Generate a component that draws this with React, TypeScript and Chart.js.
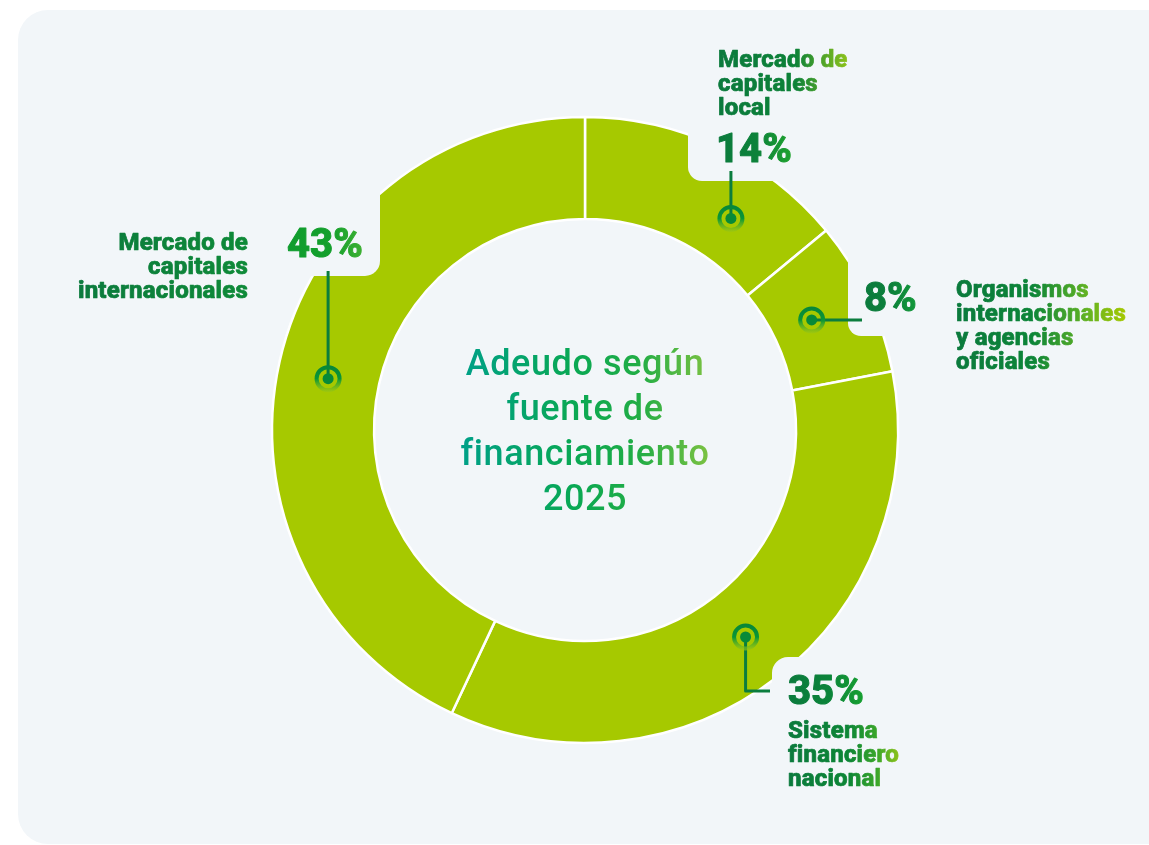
import { useEffect, useRef } from "react";
import { Chart, registerables } from "chart.js";

Chart.register(...registerables);

// ---------- data ----------
const categories = [
  "Mercado de capitales local",
  "Organismos internacionales y agencias oficiales",
  "Sistema financiero nacional",
  "Mercado de capitales internacionales",
];
const shares = [14, 8, 35, 43];
const percentLabels = ["14%", "8%", "35%", "43%"];
const labelLines = [
  ["Mercado de", "capitales", "local"],
  ["Organismos", "internacionales", "y agencias", "oficiales"],
  ["Sistema", "financiero", "nacional"],
  ["Mercado de", "capitales", "internacionales"],
];
const titleLines = ["Adeudo según", "fuente de", "financiamiento", "2025"];

// ---------- styles ----------
const PAGE_BG = "#ffffff";
const CARD_BG = "#f2f6f9";
const RING = "#a6c900";
const DARK = "#0b7a3d";
const FONT = "Roboto, 'Noto Sans', sans-serif";

type Stop = [number, string];
type Layout = {
  angleOffset: number; // degrees
  radiusShift: number;
  connector: "up" | "right" | "downRight";
  lineEnd: [number, number]; // relative to center
  pct: [number, number];
  pctStops: Stop[];
  label: [number, number];
  labelAlign: "left" | "right";
  labelStops: Stop[];
  notch: { x: number; y: number; w: number; h: number; r: [number, number, number, number] };
};

const layouts: Layout[] = [
  {
    angleOffset: 9.4,
    radiusShift: -5,
    connector: "up",
    lineEnd: [0, -259],
    pct: [131, -268],
    pctStops: [[0, DARK], [0.55, "#0c823a"], [1, "#1fa32e"]],
    label: [133, -363],
    labelAlign: "left",
    labelStops: [[0, DARK], [0.6, "#0d8238"], [1, "#8cc21a"]],
    notch: { x: 103, y: -340, w: 140, h: 91, r: [0, 0, 0, 14] },
  },
  {
    angleOffset: -0.7,
    radiusShift: -10,
    connector: "right",
    lineEnd: [277, 0],
    pct: [279, -119],
    pctStops: [[0, DARK], [0.5, "#0c803b"], [1, "#13993a"]],
    label: [371, -133],
    labelAlign: "left",
    labelStops: [[0, DARK], [0.45, "#0c8538"], [0.75, "#5cb025"], [1, "#a6c900"]],
    notch: { x: 263, y: -200, w: 80, h: 106, r: [0, 0, 0, 13] },
  },
  {
    angleOffset: 0,
    radiusShift: 0,
    connector: "downRight",
    lineEnd: [185, 261],
    pct: [203, 274],
    pctStops: [[0, DARK], [0.55, "#0c843a"], [1, "#16a030"]],
    label: [203, 308],
    labelAlign: "left",
    labelStops: [[0, DARK], [0.55, "#0d8636"], [0.8, "#3aa62a"], [1, "#8cc21a"]],
    notch: { x: 187, y: 227, w: 140, h: 120, r: [16, 0, 0, 0] },
  },
  {
    angleOffset: -1.3,
    radiusShift: 0,
    connector: "up",
    lineEnd: [0, -159],
    pct: [-298, -173],
    pctStops: [[0, "#0f9c2e"], [0.6, "#14a02c"], [1, "#3db032"]],
    label: [-337, -180],
    labelAlign: "right",
    labelStops: [[0, DARK], [1, "#0e8a38"]],
    notch: { x: -300, y: -270, w: 95, h: 116, r: [0, 0, 15, 0] },
  },
];

const titleStops: Stop[] = [
  [0, "#00a088"],
  [0.45, "#09a854"],
  [0.72, "#22ad45"],
  [1, "#7cc242"],
];

function roundedRect(
  ctx: CanvasRenderingContext2D,
  x: number,
  y: number,
  w: number,
  h: number,
  r: [number, number, number, number]
) {
  const [tl, tr, br, bl] = r;
  ctx.beginPath();
  ctx.moveTo(x + tl, y);
  ctx.lineTo(x + w - tr, y);
  if (tr) ctx.arcTo(x + w, y, x + w, y + tr, tr);
  else ctx.lineTo(x + w, y);
  ctx.lineTo(x + w, y + h - br);
  if (br) ctx.arcTo(x + w, y + h, x + w - br, y + h, br);
  else ctx.lineTo(x + w, y + h);
  ctx.lineTo(x + bl, y + h);
  if (bl) ctx.arcTo(x, y + h, x, y + h - bl, bl);
  else ctx.lineTo(x, y + h);
  ctx.lineTo(x, y + tl);
  if (tl) ctx.arcTo(x, y, x + tl, y, tl);
  else ctx.lineTo(x, y);
  ctx.closePath();
}

function grad(ctx: CanvasRenderingContext2D, x0: number, x1: number, stops: Stop[]) {
  const g = ctx.createLinearGradient(x0, 0, x1, 0);
  stops.forEach(([o, c]) => g.addColorStop(o, c));
  return g;
}

const cardPlugin = {
  id: "card",
  beforeDraw(chart: any) {
    const ctx: CanvasRenderingContext2D = chart.ctx;
    ctx.save();
    ctx.fillStyle = PAGE_BG;
    ctx.fillRect(0, 0, chart.width, chart.height);
    ctx.fillStyle = CARD_BG;
    roundedRect(ctx, 18, 10, 1200, 834, [30, 30, 30, 30]);
    ctx.fill();
    ctx.restore();
  },
};

const annotationPlugin = {
  id: "annotations",
  afterDatasetsDraw(chart: any) {
    const ctx: any = chart.ctx;
    const arcs = chart.getDatasetMeta(0).data;
    if (!arcs.length) return;
    const first = arcs[0].getProps(["x", "y"], true);
    const cx = first.x;
    const cy = first.y;
    ctx.save();

    // notches behind the labels
    ctx.fillStyle = CARD_BG;
    layouts.forEach((l) => {
      roundedRect(ctx, cx + l.notch.x, cy + l.notch.y, l.notch.w, l.notch.h, l.notch.r);
      ctx.fill();
    });

    // title
    ctx.textAlign = "center";
    ctx.textBaseline = "alphabetic";
    ctx.font = `500 36px ${FONT}`;
    ctx.letterSpacing = "0.6px";
    const tw = Math.max(...titleLines.map((t) => ctx.measureText(t).width));
    ctx.fillStyle = grad(ctx, cx - tw / 2, cx + tw / 2, titleStops);
    titleLines.forEach((t, i) => ctx.fillText(t, cx, cy - 55 + i * 45));

    arcs.forEach((arc: any, i: number) => {
      const l = layouts[i];
      const p = arc.getProps(["startAngle", "endAngle", "innerRadius", "outerRadius"], true);
      const ang = (p.startAngle + p.endAngle) / 2 + (l.angleOffset * Math.PI) / 180;
      const rr = (p.innerRadius + p.outerRadius) / 2 + l.radiusShift;
      const mx = cx + rr * Math.cos(ang);
      const my = cy + rr * Math.sin(ang);

      // connector
      ctx.strokeStyle = "#0b7d3e";
      ctx.lineWidth = 3;
      ctx.lineCap = "butt";
      ctx.beginPath();
      ctx.moveTo(mx, my);
      if (l.connector === "up") ctx.lineTo(mx, cy + l.lineEnd[1]);
      else if (l.connector === "right") ctx.lineTo(cx + l.lineEnd[0], my);
      else {
        ctx.lineTo(mx, cy + l.lineEnd[1]);
        ctx.lineTo(cx + l.lineEnd[0], cy + l.lineEnd[1]);
      }
      ctx.stroke();

      // marker
      const rg = ctx.createLinearGradient(0, my - 14, 0, my + 14);
      rg.addColorStop(0, "#07853a");
      rg.addColorStop(0.5, "#0a9636");
      rg.addColorStop(1, "rgba(160,200,20,0.6)");
      ctx.strokeStyle = rg;
      ctx.lineWidth = 4;
      ctx.beginPath();
      ctx.arc(mx, my, 11.5, 0, Math.PI * 2);
      ctx.stroke();
      ctx.fillStyle = "#078a38";
      ctx.beginPath();
      ctx.arc(mx, my, 5.5, 0, Math.PI * 2);
      ctx.fill();

      ctx.lineJoin = "round";

      // percent
      ctx.textAlign = "left";
      ctx.letterSpacing = "0px";
      ctx.font = `800 40px ${FONT}`;
      const px = cx + l.pct[0];
      const pw = ctx.measureText(percentLabels[i]).width;
      const pg = grad(ctx, px, px + pw, l.pctStops);
      ctx.fillStyle = pg;
      ctx.strokeStyle = pg;
      ctx.lineWidth = 1;
      ctx.fillText(percentLabels[i], px, cy + l.pct[1]);
      ctx.strokeText(percentLabels[i], px, cy + l.pct[1]);

      // label
      ctx.font = `800 24px ${FONT}`;
      ctx.letterSpacing = "0.2px";
      const lines = labelLines[i];
      const lw = Math.max(...lines.map((t) => ctx.measureText(t).width));
      const lx = cx + l.label[0];
      const x0 = l.labelAlign === "left" ? lx : lx - lw;
      const lg = grad(ctx, x0, x0 + lw, l.labelStops);
      ctx.fillStyle = lg;
      ctx.strokeStyle = lg;
      ctx.lineWidth = 0.7;
      ctx.textAlign = l.labelAlign;
      lines.forEach((t, k) => {
        ctx.fillText(t, lx, cy + l.label[1] + k * 24);
        ctx.strokeText(t, lx, cy + l.label[1] + k * 24);
      });
    });
    ctx.restore();
  },
};

export default function App() {
  const ref = useRef<HTMLCanvasElement>(null);
  useEffect(() => {
    const chart = new Chart(ref.current!, {
      type: "doughnut",
      data: {
        labels: categories,
        datasets: [
          {
            data: shares,
            backgroundColor: RING,
            borderColor: "#ffffff",
            borderWidth: 2.5,
          },
        ],
      },
      options: {
        responsive: false,
        animation: false,
        radius: 313,
        cutout: "67.4%",
        layout: { padding: { left: 21, right: 0, top: 15, bottom: 0 } },
        events: [],
        plugins: { legend: { display: false }, tooltip: { enabled: false } },
      } as any,
      plugins: [cardPlugin, annotationPlugin],
    });
    return () => chart.destroy();
  }, []);
  return (
    <div style={{ position: "fixed", left: 0, top: 0, width: 1149, height: 845, background: PAGE_BG }}>
      <canvas ref={ref} width={1149} height={845} style={{ display: "block" }} />
    </div>
  );
}
